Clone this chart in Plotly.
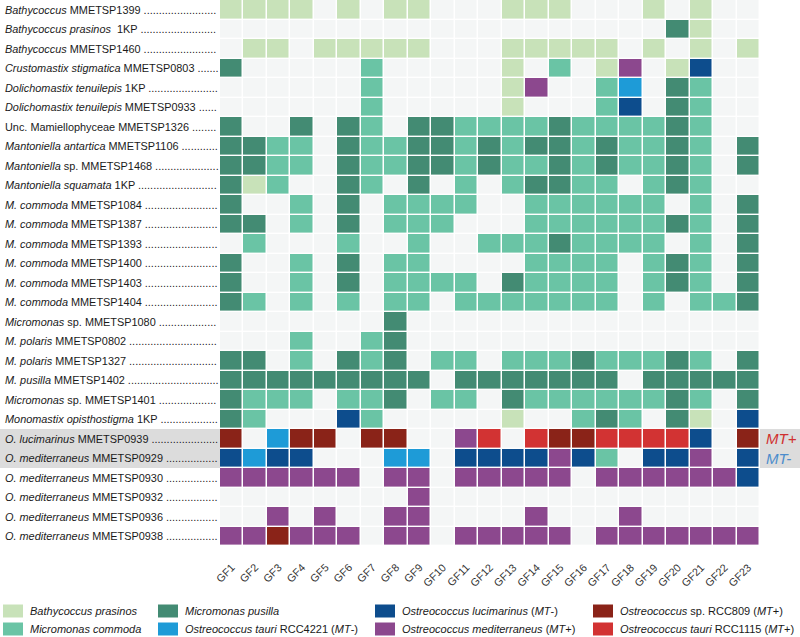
import re
import plotly.graph_objects as go

# ---------------- data ----------------
taxa = [
    "<i>Bathycoccus</i> MMETSP1399",
    "<i>Bathycoccus prasinos</i>  1KP",
    "<i>Bathycoccus</i> MMETSP1460",
    "<i>Crustomastix stigmatica</i> MMETSP0803",
    "<i>Dolichomastix tenuilepis</i> 1KP",
    "<i>Dolichomastix tenuilepis</i> MMETSP0933",
    "Unc. Mamiellophyceae MMETSP1326",
    "<i>Mantoniella antartica</i> MMETSP1106",
    "<i>Mantoniella</i> sp. MMETSP1468",
    "<i>Mantoniella squamata</i> 1KP",
    "<i>M. commoda</i> MMETSP1084",
    "<i>M. commoda</i> MMETSP1387",
    "<i>M. commoda</i> MMETSP1393",
    "<i>M. commoda</i> MMETSP1400",
    "<i>M. commoda</i> MMETSP1403",
    "<i>M. commoda</i> MMETSP1404",
    "<i>Micromonas</i> sp. MMETSP1080",
    "<i>M. polaris</i> MMETSP0802",
    "<i>M. polaris</i> MMETSP1327",
    "<i>M. pusilla</i> MMETSP1402",
    "<i>Micromonas</i> sp. MMETSP1401",
    "<i>Monomastix opisthostigma</i> 1KP",
    "<i>O. lucimarinus</i> MMETSP0939",
    "<i>O. mediterraneus</i> MMETSP0929",
    "<i>O. mediterraneus</i> MMETSP0930",
    "<i>O. mediterraneus</i> MMETSP0932",
    "<i>O. mediterraneus</i> MMETSP0936",
    "<i>O. mediterraneus</i> MMETSP0938",
]

gf_labels = ["GF1", "GF2", "GF3", "GF4", "GF5", "GF6", "GF7", "GF8", "GF9", "GF10",
             "GF11", "GF12", "GF13", "GF14", "GF15", "GF16", "GF17", "GF18", "GF19",
             "GF20", "GF21", "GF22", "GF23"]

# best-hit category per taxon (row) and gene family (column); '.' = no hit
best_hits = [
    "BBBB.B.BB...BBB...B.B..",
    "...................PB..",
    ".BB.BBBBB...BBBBB.B.B.B",
    "P.....C.....B.C.BM.BL..",
    "......C.....BM..CT.PC..",
    "......C.....B...CL.PC..",
    "P..P.PC.PPCCCCPCCCCPC..",
    "PPCC.PCCPPCPCPPCPCCPC.P",
    "PPCC.PCCPPCPCCPCPCCPC.P",
    "PBC..PC.P.C.CPPCC.CPC..",
    "P..C.P.CCCC..CCCCCC.C.P",
    "PP.C.P.CCC...CCCCCCPC.P",
    ".C...C..C..CCCPCCCC.C.P",
    "P..C.P.CC....CCCC.CPC.P",
    "P..C.P.CCCC.PCCCC.CPC.P",
    "PC.C.C.CC.CCCCCCC.C.CCP",
    ".......P...............",
    "...C..CP...............",
    "PP.C.PCP.CC.CCCPCCCPC.P",
    "PPPPPPPPP.PPPPPPP.PPPPP",
    "PCCC.CCP.CC.PCCCCCCPC.P",
    "PC...LC.....B..CPC.PB.L",
    "R.TRR.RR..MX.XRRXXXXL.R",
    "LTLL...TT.LLLLMLC.LLM.L",
    "MMMMMM.MM.MMMMM.MMMMMML",
    "........M..............",
    "..M.M..MM....M...M.....",
    "MMRMMM.MM.MMMMM.MMMMMMM",
]

category_codes = [".", "B", "C", "P", "T", "L", "M", "R", "X"]
category_names = [
    "",
    "<i>Bathycoccus prasinos</i>",
    "<i>Micromonas commoda</i>",
    "<i>Micromonas pusilla</i>",
    "<i>Ostreococcus tauri</i> RCC4221 (<i>MT</i>-)",
    "<i>Ostreococcus lucimarinus</i> (<i>MT</i>-)",
    "<i>Ostreococcus mediterraneus</i> (<i>MT</i>+)",
    "<i>Ostreococcus</i> sp. RCC809 (<i>MT</i>+)",
    "<i>Ostreococcus tauri</i> RCC1115 (<i>MT</i>+)",
]
category_colors = ["#f4f6f6", "#c8e2b9", "#6ac4a5", "#438b73", "#1e9bd7",
                   "#0d4d8d", "#8c488e", "#8a2318", "#d23333"]

# legend order: columns of two
legend_order = ["B", "C", "P", "T", "L", "M", "R", "X"]

mating_rows = [22, 23]
mating_text = ["MT+", "MT-"]
mating_colors = ["#d0302f", "#4b8ccc"]

# ---------------- layout geometry ----------------
W, H = 800, 637
PL, PR, PT, PB = 220, 760, 0, 546
FONT = "Liberation Sans, Arial, Helvetica, sans-serif"


def px2x(px):
    return (px - PL) / (PR - PL)


def py2y(py):
    return (PB - py) / (PB - PT)


# Arial / Liberation Sans advance widths (per 1000 em)
AW = {" ": 278, ".": 278, "-": 333, "+": 584, "(": 333, ")": 333}
AW.update(dict(zip("ABCDEFGHIJKLMNOPQRSTUVWXYZ",
                   [667, 667, 722, 722, 667, 611, 778, 722, 278, 500, 667, 556, 833,
                    722, 778, 667, 778, 722, 667, 611, 722, 667, 944, 667, 667, 611])))
AW.update(dict(zip("abcdefghijklmnopqrstuvwxyz",
                   [556, 556, 500, 556, 556, 278, 556, 556, 222, 222, 500, 222, 833,
                    556, 556, 556, 556, 333, 500, 278, 556, 500, 722, 500, 500, 500])))
AW.update({d: 556 for d in "0123456789"})

LABEL_SIZE = 10.9
LABEL_X0 = 3
LABEL_END = 217


def text_width(s, size):
    plain = re.sub(r"<[^>]+>", "", s)
    return sum(AW.get(ch, 556) for ch in plain) * size / 1000.0


code_index = {c: i for i, c in enumerate(category_codes)}
z = [[code_index[c] for c in row] for row in best_hits]
ncat = len(category_codes)
colorscale = []
for k, col in enumerate(category_colors):
    colorscale.append([k / ncat, col])
    colorscale.append([(k + 1) / ncat, col])

fig = go.Figure(go.Heatmap(
    z=z,
    x=list(range(len(gf_labels))),
    y=list(range(len(taxa))),
    colorscale=colorscale,
    zmin=-0.5, zmax=ncat - 0.5,
    showscale=False,
    xgap=1.5, ygap=1.4,
    hoverinfo="skip",
))

shapes = []
annotations = []

# grey highlight band for mating-type rows (outside the grid)
for x0, x1 in [(0, PL), (PR, W)]:
    shapes.append(dict(type="rect", xref="paper", yref="y",
                       x0=px2x(x0), x1=px2x(x1), y0=min(mating_rows) - 0.5,
                       y1=max(mating_rows) + 0.5, fillcolor="#dcdcdc",
                       line=dict(width=0), layer="below"))

# row labels with dotted leaders
dot_w = AW["."] * LABEL_SIZE / 1000.0
for i, lab in enumerate(taxa):
    w = text_width(lab + " ", LABEL_SIZE)
    n = max(2, int((LABEL_END - LABEL_X0 - w) / dot_w))
    annotations.append(dict(
        text=lab + " " + "." * n, xref="paper", yref="y",
        x=px2x(LABEL_X0), y=i, xanchor="left", yanchor="middle",
        showarrow=False, font=dict(family=FONT, size=LABEL_SIZE, color="#1a1a1a"),
    ))

# mating type tags
for r, t, c in zip(mating_rows, mating_text, mating_colors):
    annotations.append(dict(
        text="<i>" + t + "</i>", xref="paper", yref="y", x=px2x(764), y=r,
        xanchor="left", yanchor="middle", showarrow=False,
        font=dict(family=FONT, size=15, color=c),
    ))

# legend
legend_cols_x = [3, 158, 375, 593]
legend_rows_y = [611, 629]
for k, code in enumerate(legend_order):
    ci = code_index[code]
    cx = legend_cols_x[k // 2]
    cy = legend_rows_y[k % 2]
    shapes.append(dict(type="rect", xref="paper", yref="paper",
                       x0=px2x(cx), x1=px2x(cx + 20), y0=py2y(cy - 6.5), y1=py2y(cy + 6.5),
                       fillcolor=category_colors[ci], line=dict(width=0)))
    annotations.append(dict(
        text=category_names[ci], xref="paper", yref="paper",
        x=px2x(cx + 25), y=py2y(cy), xanchor="left", yanchor="middle",
        showarrow=False, font=dict(family=FONT, size=11, color="#1a1a1a"),
    ))

fig.update_layout(
    width=W, height=H,
    margin=dict(l=PL, r=W - PR, t=PT, b=H - PB, pad=0),
    paper_bgcolor="white", plot_bgcolor="white",
    shapes=shapes, annotations=annotations,
    font=dict(family=FONT),
    xaxis=dict(tickmode="array", tickvals=list(range(len(gf_labels))), ticktext=gf_labels,
               tickangle=-45, tickfont=dict(family=FONT, size=10.8, color="#333333"),
               ticks="outside", ticklen=10, tickcolor="rgba(0,0,0,0)",
               showgrid=False, zeroline=False, showline=False,
               range=[-0.5, len(gf_labels) - 0.5], fixedrange=True),
    yaxis=dict(showticklabels=False, showgrid=False, zeroline=False, showline=False,
               ticks="", range=[len(taxa) - 0.5, -0.5], fixedrange=True),
    showlegend=False,
)

fig.write_html(
    "out.html",
    config={"displayModeBar": False},
    post_script="document.body.style.margin='0';document.body.style.overflow='hidden';",
)
